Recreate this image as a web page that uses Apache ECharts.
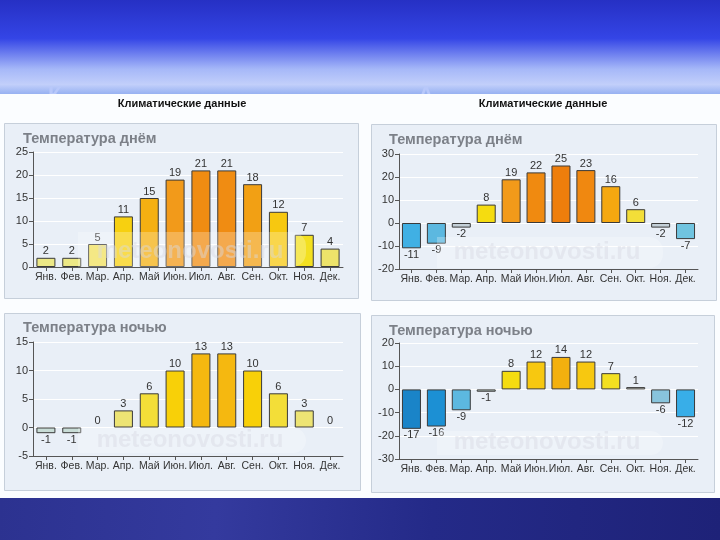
<!DOCTYPE html>
<html><head><meta charset="utf-8">
<script src="https://cdn.jsdelivr.net/npm/echarts@6/dist/echarts.min.js"></script>
<style>html,body{margin:0;padding:0;background:#fff;}#c{width:720px;height:540px;}</style>
</head><body><div id="c"></div>
<script>
// ---- data ----
const months = ['Янв.','Фев.','Мар.','Апр.','Май','Июн.','Июл.','Авг.','Сен.','Окт.','Ноя.','Дек.'];
const dayLeft    = [2, 2, 5, 11, 15, 19, 21, 21, 18, 12, 7, 4];
const nightLeft  = [-1, -1, 0, 3, 6, 10, 13, 13, 10, 6, 3, 0];
const dayRight   = [-11, -9, -2, 8, 19, 22, 25, 23, 16, 6, -2, -7];
const nightRight = [-17, -16, -9, -1, 8, 12, 14, 12, 7, 1, -6, -12];
const headline = 'Климатические данные';
const titleDay = 'Температура днём';
const titleNight = 'Температура ночью';
const watermark = 'meteonovosti.ru';
const axisMin = [0, -20, -5, -30];
const axisMax = [25, 30, 15, 20];
const axisStep = [5, 10, 5, 10];

// ---- colour scale (value -> fill) ----
const stops = [
  [-17,'#1a84c8'],[-16,'#1c90d4'],[-12,'#38aee8'],[-11,'#40b0e4'],[-9,'#5cb8e0'],
  [-7,'#70c4e0'],[-6,'#88c4dc'],[-2,'#c4d0d8'],[-1,'#c8dcd6'],[0,'#e6e8dc'],[1,'#e6e6dc'],
  [2,'#ece886'],[3,'#ede474'],[4,'#ede36a'],[5,'#f0e05c'],[6,'#f3de38'],[7,'#f3e020'],
  [8,'#f5dc10'],[10,'#f8d008'],[11,'#f7d010'],[12,'#f7c810'],[13,'#f5b810'],[14,'#f3b00e'],
  [15,'#f5b012'],[16,'#f5a810'],[18,'#f2a014'],[19,'#f29a1a'],[21,'#f08c12'],[22,'#f08a10'],
  [23,'#f08810'],[25,'#ee7e0c']
];
function hex(c){return [parseInt(c.slice(1,3),16),parseInt(c.slice(3,5),16),parseInt(c.slice(5,7),16)];}
function colorFor(v){
  if (v <= stops[0][0]) return stops[0][1];
  for (let i=1;i<stops.length;i++){
    if (v <= stops[i][0]){
      const [a,ca]=stops[i-1],[b,cb]=stops[i];
      const t=(v-a)/(b-a), A=hex(ca), B=hex(cb);
      return 'rgb('+A.map((x,k)=>Math.round(x+(B[k]-x)*t)).join(',')+')';
    }
  }
  return stops[stops.length-1][1];
}

// ---- layout ----
const grids = [
  {left:33, top:152, width:310, height:115},
  {left:399, top:154, width:299, height:115},
  {left:33, top:342, width:310, height:114},
  {left:399, top:343, width:299, height:116}
];
const seriesData = [dayLeft, dayRight, nightLeft, nightRight];
const FONT = '"Liberation Sans", Arial, sans-serif';

const xAxis = grids.map((g,i)=>({
  type:'category', gridIndex:i, data:months,
  axisLine:{onZero:false, lineStyle:{color:'#555', width:1}},
  axisTick:{show:true, alignWithLabel:true, length:4, lineStyle:{color:'#555'}},
  axisLabel:{color:'#333', fontSize:10.5, fontFamily:FONT, margin:5, interval:0},
  splitLine:{show:false}
}));
const yAxis = grids.map((g,i)=>({
  type:'value', gridIndex:i, min:axisMin[i], max:axisMax[i], interval:axisStep[i],
  axisLine:{show:true, lineStyle:{color:'#555', width:1}},
  axisTick:{show:true, length:4, lineStyle:{color:'#555'}},
  axisLabel:{color:'#333', fontSize:11, fontFamily:FONT, margin:5},
  splitLine:{show:true, lineStyle:{color:'#ffffff', width:1}}
}));
const series = seriesData.map((arr,i)=>({
  type:'bar', xAxisIndex:i, yAxisIndex:i, barWidth:19,
  data: arr.map(v=>({
    value:v,
    itemStyle:{color:colorFor(v), borderColor:'#3a3a3a', borderWidth: v===0?0:1},
    label:{position: v<0?'bottom':'top'}
  })),
  label:{show:true, color:'#333', fontSize:11, fontFamily:FONT, distance:1},
  z:2
}));

// ---- decoration ----
const panels = [
  {x:4, y:123, w:354, h:175},
  {x:371, y:124, w:345, h:176},
  {x:4, y:313, w:356, h:177},
  {x:371, y:315, w:343, h:177}
];
const graphic = [
  {type:'rect', z:-20, shape:{x:0,y:0,width:720,height:96}, style:{fill:{type:'linear',x:0,y:0,x2:0,y2:1,colorStops:[
    {offset:0,color:'#2630c4'},{offset:0.4,color:'#3445e6'},{offset:0.72,color:'#a6b8f8'},{offset:0.88,color:'#c2cffa'},{offset:1,color:'#8eabf0'}]}}},
  {type:'text', z:-19, left:48, top:85, style:{text:'К', fill:'#b8c8fa', font:'bold 22px '+FONT}},
  {type:'text', z:-19, left:418, top:85, style:{text:'А', fill:'#b8c8fa', font:'bold 22px '+FONT}},
  {type:'rect', z:-18, shape:{x:0,y:94,width:720,height:404}, style:{fill:'#fbfdff'}},
  {type:'rect', z:-20, shape:{x:0,y:497,width:720,height:43}, style:{fill:{type:'linear',x:0,y:0,x2:1,y2:1,colorStops:[
    {offset:0,color:'#2c3290'},{offset:0.3,color:'#343a9e'},{offset:0.6,color:'#242a88'},{offset:1,color:'#1e2278'}]}}},
  {type:'text', z:-10, x:182, y:104, style:{text:headline, fill:'#111', font:'bold 11px '+FONT, align:'center', verticalAlign:'middle'}},
  {type:'text', z:-10, x:543, y:104, style:{text:headline, fill:'#111', font:'bold 11px '+FONT, align:'center', verticalAlign:'middle'}}
];
panels.forEach(p=>graphic.push({type:'rect', z:-15, shape:{x:p.x+0.5,y:p.y+0.5,width:p.w,height:p.h}, style:{fill:'#e9eff7', stroke:'#c6cfda', lineWidth:1}}));
const titles = [[23,139,titleDay],[389,140,titleDay],[23,328,titleNight],[389,331,titleNight]];
titles.forEach(t=>graphic.push({type:'text', z:-10, x:t[0], y:t[1], style:{text:t[2], fill:'#7c8088', font:'bold 14.5px '+FONT, verticalAlign:'middle'}}));
const marks = [
  {bx:78, by:232, bw:228, bh:35, tx:190, ty:251},
  {bx:437, by:237, bw:226, bh:31, tx:547, ty:252},
  {bx:78, by:428, bw:228, bh:25, tx:190, ty:440},
  {bx:437, by:431, bw:226, bh:24, tx:547, ty:442}
];
marks.forEach(m=>{
  graphic.push({type:'rect', z:100, shape:{x:m.bx,y:m.by,width:m.bw,height:m.bh,r:[0,14,14,0]}, style:{fill:'rgba(255,255,255,0.25)'}});
  graphic.push({type:'text', z:101, x:m.tx, y:m.ty, style:{text:watermark, fill:'rgba(214,218,226,0.45)', font:'bold 24px '+FONT, align:'center', verticalAlign:'middle'}});
});

const chart = echarts.init(document.getElementById('c'), null, {renderer:'canvas'});
chart.setOption({
  animation:false,
  backgroundColor:'#ffffff',
  grid: grids,
  xAxis, yAxis, series, graphic
});
</script>
</body></html>
